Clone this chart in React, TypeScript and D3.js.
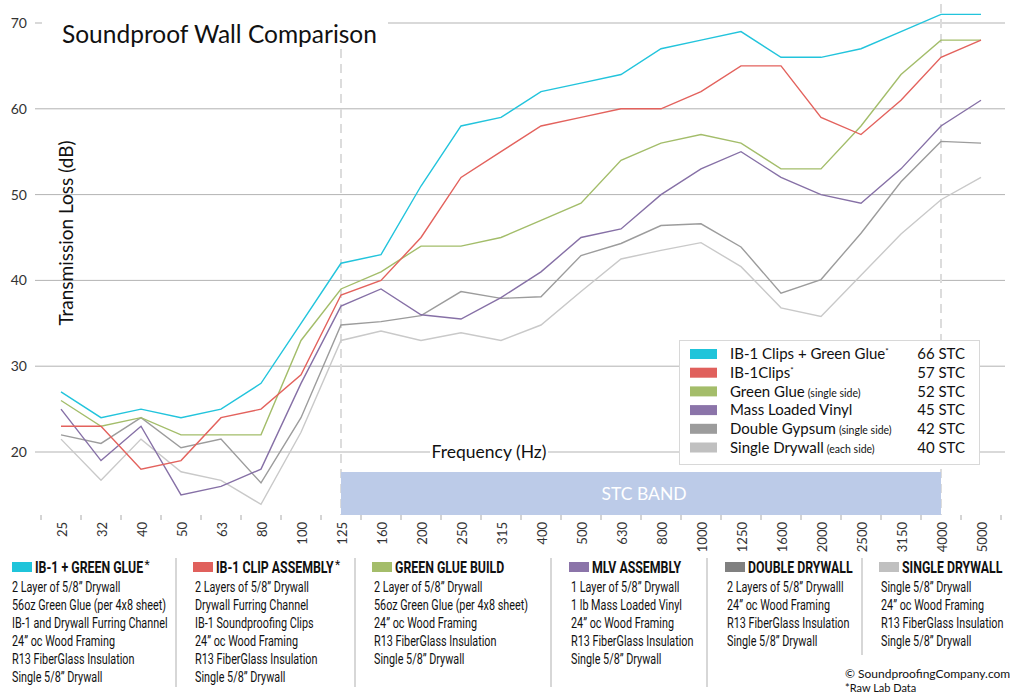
import React, { useLayoutEffect, useRef, useState } from "react";
import * as d3 from "d3";

const W = 1020;
const H = 700;

const freqs = ["25", "32", "40", "50", "63", "80", "100", "125", "160", "200", "250", "315", "400", "500", "630", "800", "1000", "1250", "1600", "2000", "2500", "3150", "4000", "5000"];
const yTicks = [20, 30, 40, 50, 60, 70];

const ib1GreenGlue = [27, 24, 25, 24, 25, 28, 35, 42, 43, 51, 58, 59, 62, 63, 64, 67, 68, 69, 66, 66, 67, 69, 71, 71];
const ib1Clips = [23, 23, 18, 19, 24, 25, 29, 38.3, 40, 45, 52, 55, 58, 59, 60, 60, 62, 65, 65, 59, 57, 61, 66, 68];
const greenGlue = [26, 23, 24, 22, 22, 22, 33, 39, 41, 44, 44, 45, 47, 49, 54, 56, 57, 56, 53, 53, 58, 64, 68, 68];
const mlv = [25, 19, 23, 15, 16, 18, 28, 37, 39, 36, 35.5, 38, 41, 45, 46, 50, 53, 55, 52, 50, 49, 53, 58, 61];
const doubleGypsum = [22, 21, 24, 20.5, 21.5, 16.4, 24, 34.8, 35.2, 35.9, 38.7, 37.9, 38.1, 42.9, 44.3, 46.4, 46.6, 43.9, 38.5, 40.1, 45.5, 51.5, 56.2, 56];
const singleDrywall = [21.5, 16.7, 21.5, 17.7, 16.7, 13.9, 22.3, 33, 34.1, 33, 33.9, 33, 34.8, 38.7, 42.5, 43.5, 44.4, 41.6, 36.8, 35.8, 40.6, 45.4, 49.4, 52];

const seriesNames = ["IB-1 Clips + Green Glue", "IB-1Clips", "Green Glue", "Mass Loaded Vinyl", "Double Gypsum", "Single Drywall"];
const seriesNotes = ["*", "*", "(single side)", "", "(single side)", "(each side)"];
const seriesStc = ["66 STC", "57 STC", "52 STC", "45 STC", "42 STC", "40 STC"];
const seriesValues = [ib1GreenGlue, ib1Clips, greenGlue, mlv, doubleGypsum, singleDrywall];
const lineColors = ["#22c4dc", "#e3625d", "#a3bd6a", "#8670a6", "#9c9c9c", "#c9c9c9"];
const legendColors = ["#1fc4da", "#e0605c", "#a4bd6a", "#8b74a9", "#9c9c9c", "#c0c0c0"];
const captionColors = ["#1fc4da", "#e0605c", "#a4bd6a", "#8b74a9", "#808080", "#c0c0c0"];

const captionHeads = ["IB-1 + GREEN GLUE", "IB-1 CLIP ASSEMBLY", "GREEN GLUE BUILD", "MLV ASSEMBLY", "DOUBLE DRYWALL", "SINGLE DRYWALL"];
const captionStars = [true, true, false, false, false, false];
const captionLines = [
  ["2 Layer of 5/8\u201D Drywall", "56oz Green Glue (per 4x8 sheet)", "IB-1 and Drywall Furring Channel", "24\u201D oc Wood Framing", "R13 FiberGlass Insulation", "Single 5/8\u201D Drywall"],
  ["2 Layers of 5/8\u201D Drywall", "Drywall Furring Channel", "IB-1 Soundproofing Clips", "24\u201D oc Wood Framing", "R13 FiberGlass Insulation", "Single 5/8\u201D Drywall"],
  ["2 Layer of 5/8\u201D Drywall", "56oz Green Glue (per 4x8 sheet)", "24\u201D oc Wood Framing", "R13 FiberGlass Insulation", "Single 5/8\u201D Drywall"],
  ["1 Layer of 5/8\u201D Drywall", "1 lb Mass Loaded Vinyl", "24\u201D oc Wood Framing", "R13 FiberGlass Insulation", "Single 5/8\u201D Drywall"],
  ["2 Layers of 5/8\u201D Drywalll", "24\u201D oc Wood Framing", "R13 FiberGlass Insulation", "Single 5/8\u201D Drywall"],
  ["Single 5/8\u201D Drywall", "24\u201D oc Wood Framing", "R13 FiberGlass Insulation", "Single 5/8\u201D Drywall"],
];
const captionX = [12, 193, 372, 569, 725, 879];
const separatorX = [176, 355, 551, 707, 862];
const separatorEnd = [687, 687, 687, 687, 655];

const GEO = "Lato, 'Open Sans', 'DejaVu Sans', sans-serif";
const COND = "Roboto, 'Liberation Sans', sans-serif";

export default function App() {
  const bodyRef = useRef<SVGTextElement>(null);
  const headRefs = useRef<(SVGTextElement | null)[]>([]);
  const [bodyScale, setBodyScale] = useState(0.74);
  const [headScale, setHeadScale] = useState(0.68);
  const [headWidths, setHeadWidths] = useState<number[]>(captionHeads.map(() => 150));

  useLayoutEffect(() => {
    if (bodyRef.current) {
      const w = bodyRef.current.getComputedTextLength();
      if (w > 0) setBodyScale(154 / w);
    }
    const ws = headRefs.current.map((el) => (el ? el.getComputedTextLength() : 150));
    if (ws[0] > 0) setHeadScale(108 / ws[0]);
    setHeadWidths(ws);
  }, []);

  const x = d3.scaleBand<string>().domain(freqs).range([41, 1001]).padding(0);
  const xc = (f: string) => (x(f) as number) + x.bandwidth() / 2;
  const y = d3.scaleLinear().domain([20, 70]).range([452, 23]);

  const line = d3
    .line<number>()
    .x((_, i) => xc(freqs[i]))
    .y((d) => y(d));

  const bandX0 = xc("125");
  const bandX1 = xc("4000");

  return (
    <svg width={W} height={H} style={{ position: "absolute", left: 0, top: 0, background: "#fff" }} fontFamily={GEO}>
      <rect x={0} y={0} width={W} height={H} fill="#fff" />

      {/* gridlines */}
      {yTicks.map((t) => (
        <g key={t}>
          <line x1={35} x2={1005} y1={y(t)} y2={y(t)} stroke="#b3b3b3" strokeWidth={1} />
          <text x={27} y={y(t)} dy="0.35em" textAnchor="end" fontSize={14} fill="#333">
            {t}
          </text>
        </g>
      ))}

      {/* dashed band markers */}
      {[bandX0, bandX1].map((xx, i) => (
        <line key={i} x1={xx} x2={xx} y1={4} y2={515} stroke="#dcdcdc" strokeWidth={2} strokeDasharray="9,6" />
      ))}

      {/* title */}
      <rect x={42} y={0} width={346} height={48} fill="#fff" />
      <text x={62} y={43} fontSize={24.5} fill="#111">
        Soundproof Wall Comparison
      </text>

      {/* y title */}
      <text transform={`translate(73,233) rotate(-90)`} textAnchor="middle" fontSize={19} fill="#111">
        Transmission Loss (dB)
      </text>

      {/* data lines */}
      {seriesValues
        .map((vals, i) => ({ vals, i }))
        .reverse()
        .map(({ vals, i }) => (
          <path key={i} d={line(vals) || ""} fill="none" stroke={lineColors[i]} strokeWidth={1.4} strokeLinejoin="miter" />
        ))}

      {/* frequency label */}
      <rect x={430} y={440} width={118} height={24} fill="#fff" />
      <text x={489} y={452} dy="0.35em" textAnchor="middle" fontSize={17.5} fill="#111">
        Frequency (Hz)
      </text>

      {/* STC band */}
      <rect x={bandX0} y={472} width={bandX1 - bandX0} height={43} fill="#bccbe8" />
      <text x={(bandX0 + bandX1) / 2 + 3} y={494} dy="0.35em" textAnchor="middle" fontSize={17.5} fill="#fff">
        STC BAND
      </text>

      {/* x ticks */}
      {freqs.map((f) => (
        <line key={"t" + f} x1={x(f) as number} x2={x(f) as number} y1={515} y2={520} stroke="#aaa" />
      ))}
      <line x1={1001} x2={1001} y1={515} y2={520} stroke="#aaa" />
      {freqs.map((f) => (
        <text key={"l" + f} transform={`translate(${xc(f) + 1},522) rotate(-90)`} dy="0.35em" textAnchor="end" fontSize={13} fill="#333">
          {f}
        </text>
      ))}

      {/* legend */}
      <rect x={679.5} y={340.5} width={300} height={124} fill="#fff" stroke="#d8d8d8" />
      {seriesNames.map((n, i) => {
        const cy = 354 + i * 18.7;
        const note = seriesNotes[i];
        return (
          <g key={n}>
            <rect x={690} y={cy - 5} width={27} height={10} fill={legendColors[i]} />
            <text x={730} y={cy} dy="0.35em" fontSize={15} fill="#111">
              {n}
              {note === "*" ? (
                <tspan fontSize={8} dy={-5}>
                  *
                </tspan>
              ) : note ? (
                <tspan fontSize={10.5} dx={3}>
                  {note}
                </tspan>
              ) : null}
            </text>
            <text x={965} y={cy} dy="0.35em" textAnchor="end" fontSize={15} fill="#111">
              {seriesStc[i]}
            </text>
          </g>
        );
      })}

      {/* captions */}
      {captionHeads.map((h, i) => (
        <g key={h}>
          <rect x={captionX[i]} y={562} width={20} height={10} fill={captionColors[i]} />
          <g transform={`translate(${captionX[i] + 23},573) scale(${headScale},1)`}>
            <text
              ref={(el) => {
                headRefs.current[i] = el;
              }}
              x={0}
              y={0}
              fontFamily={COND}
              fontWeight={700}
              fontSize={17}
              fill="#111"
            >
              {h}
            </text>
          </g>
          {captionStars[i] ? (
            <text x={captionX[i] + 23 + headWidths[i] * headScale + 1.5} y={569} fontFamily={COND} fontSize={12} fill="#111">
              *
            </text>
          ) : null}
          {captionLines[i].map((l, j) => (
            <g key={j} transform={`translate(${captionX[i] + (i === 0 ? 0 : 2)},${592 + j * 17.9}) scale(${bodyScale},1)`}>
              <text ref={i === 0 && j === 1 ? bodyRef : undefined} x={0} y={0} fontFamily={COND} fontSize={15} fill="#111">
                {l}
              </text>
            </g>
          ))}
        </g>
      ))}
      {separatorX.map((sx, i) => (
        <line key={sx} x1={sx} x2={sx} y1={558} y2={separatorEnd[i]} stroke="#bdbdbd" strokeWidth={1.2} />
      ))}

      {/* credits */}
      <text x={845} y={678} fontSize={12} fill="#111">
        © SoundproofingCompany.com
      </text>
      <text x={845} y={692} fontSize={11} fill="#111">
        *Raw Lab Data
      </text>
    </svg>
  );
}
